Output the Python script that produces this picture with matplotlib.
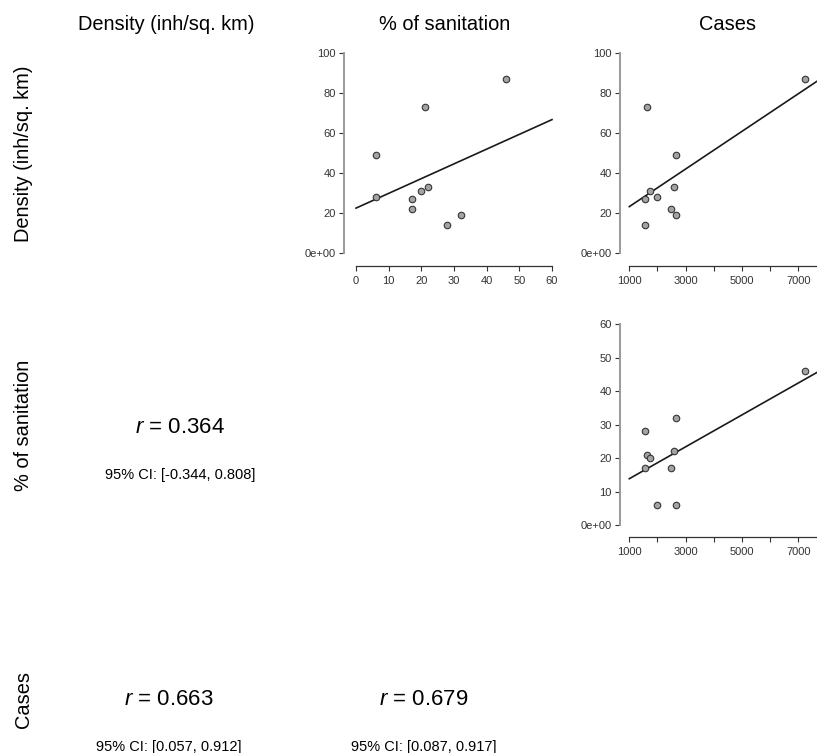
import numpy as np
import matplotlib
matplotlib.use('Agg')
import matplotlib.pyplot as plt

plt.rcParams['font.family'] = ['Liberation Sans', 'DejaVu Sans']
plt.rcParams['mathtext.fontset'] = 'custom'
plt.rcParams['mathtext.rm'] = 'Liberation Sans'
plt.rcParams['mathtext.it'] = 'Liberation Sans:italic'

# 数据：10 个地区
variables = ['Density (inh/sq. km)', '% of sanitation', 'Cases']
density = [87, 73, 49, 28, 27, 14, 22, 31, 33, 19]
sanitation = [46, 21, 6, 6, 17, 28, 17, 20, 22, 32]
cases = [7250, 1625, 2655, 1980, 1540, 1570, 2480, 1725, 2585, 2655]

# 下三角的相关系数文本
r_texts = {(1, 0): '0.364', (2, 0): '0.663', (2, 1): '0.679'}
ci_texts = {(1, 0): '[-0.344, 0.808]', (2, 0): '[0.057, 0.912]', (2, 1): '[0.087, 0.917]'}

W, H = 817, 753
fig = plt.figure(figsize=(W / 100, H / 100), dpi=100)


def px_axes(x0, x1, ytop, ybot):
    # 像素坐标 -> figure 比例
    return fig.add_axes([x0 / W, 1 - ybot / H, (x1 - x0) / W, (ybot - ytop) / H])


def scatter_panel(rect, x, y, xticks, yticks, xlabels, ylabels, off_left, off_bottom):
    ax = px_axes(*rect)
    ax.set_xlim(xticks[0], xticks[-1])
    ax.set_ylim(yticks[0], yticks[-1])
    ax.scatter(x, y, s=22, facecolor='#a3a3a3', edgecolor='#353535', linewidth=0.8,
               zorder=3, clip_on=False)
    # 回归线
    k, b = np.polyfit(x, y, 1)
    xs = np.array([xticks[0], xticks[-1]])
    ax.plot(xs, k * xs + b, color='#1a1a1a', lw=1.2, clip_on=False, zorder=2)
    for s in ['top', 'right']:
        ax.spines[s].set_visible(False)
    ax.spines['left'].set_position(('outward', off_left * 0.72))
    ax.spines['bottom'].set_position(('outward', off_bottom * 0.72))
    ax.spines['left'].set_bounds(yticks[0], yticks[-1])
    ax.spines['bottom'].set_bounds(xticks[0], xticks[-1])
    ax.spines['left'].set_color('#9a9a9a')
    ax.spines['left'].set_linewidth(1.4)
    ax.spines['bottom'].set_color('#333333')
    ax.spines['bottom'].set_linewidth(0.9)
    ax.set_xticks(xticks)
    ax.set_xticklabels(xlabels)
    ax.set_yticks(yticks)
    ax.set_yticklabels(ylabels)
    ax.tick_params(axis='both', direction='out', length=3.6, width=0.8, color='#333333',
                   labelsize=8, labelcolor='#333333')
    ax.tick_params(axis='y', pad=2.2)
    ax.tick_params(axis='x', pad=3.4)
    ax.patch.set_alpha(0)
    return ax


d_ticks = [0, 20, 40, 60, 80, 100]
d_labels = ['0e+00', '20', '40', '60', '80', '100']
s_ticks = [0, 10, 20, 30, 40, 50, 60]
s_xlabels = [str(t) for t in s_ticks]
s_ylabels = ['0e+00', '10', '20', '30', '40', '50', '60']
c_ticks = [1000, 2000, 3000, 4000, 5000, 6000, 7000, 8000]
c_labels = ['1000', '', '3000', '', '5000', '', '7000', '']

scatter_panel((356, 552, 53, 253), sanitation, density, s_ticks, d_ticks,
              s_xlabels, d_labels, 12.3, 13)
scatter_panel((629.3, 826.5, 53, 253), cases, density, c_ticks, d_ticks,
              c_labels, d_labels, 9.3, 13)
scatter_panel((629.3, 826.5, 324.3, 525), cases, sanitation, c_ticks, s_ticks,
              c_labels, s_ylabels, 9.3, 12)

# 列标题与行标题
col_x = [166, 445, 727]
row_y = [154, 425, 700]
for i, name in enumerate(variables):
    fig.text(col_x[i] / W, 1 - 29.5 / H, name, fontsize=14.4, ha='center', va='baseline')
    fig.text(24 / W, 1 - row_y[i] / H, name, fontsize=14.4, ha='center', va='center',
             rotation=90)

# 相关系数
r_pos = {(1, 0): (180, 432.7, 479), (2, 0): (168.5, 705, 751), (2, 1): (423.5, 705, 751)}
for key, (x, yr, yc) in r_pos.items():
    fig.text(x / W, 1 - yr / H, '$r$ = ' + r_texts[key], fontsize=16, ha='center',
             va='baseline')
    fig.text(x / W, 1 - yc / H, '95% CI: ' + ci_texts[key], fontsize=10.5, ha='center',
             va='baseline')

fig.savefig('out.png', dpi=100)
